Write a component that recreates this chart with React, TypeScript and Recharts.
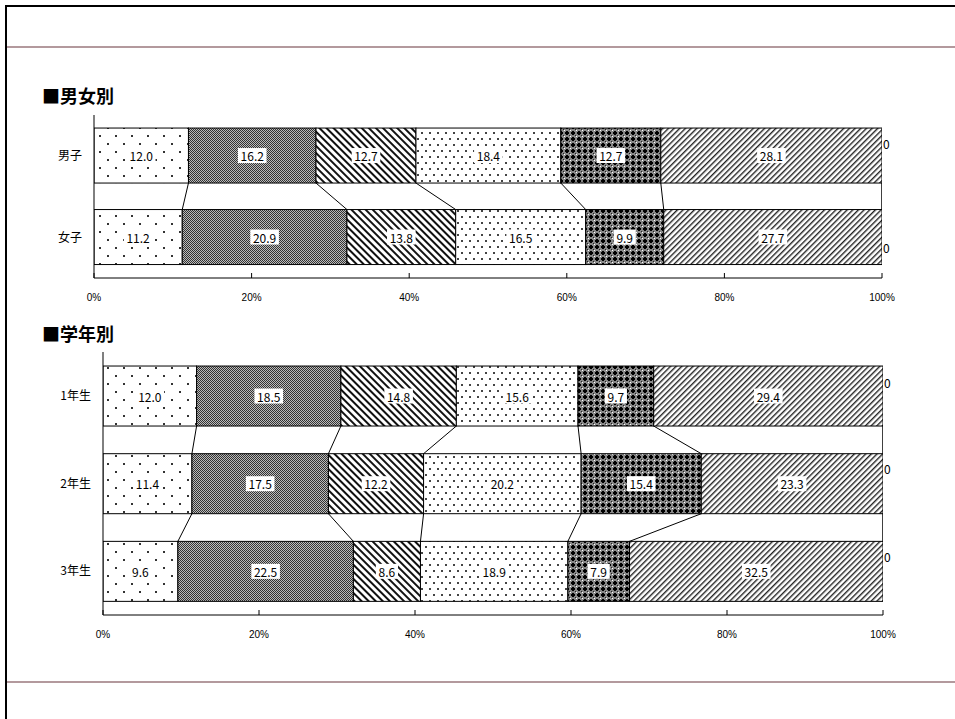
import { Bar, BarChart, LabelList, XAxis, YAxis } from "recharts";

// series keys, left to right (last one is the zero-valued "no answer" group)
const seriesKeys = ["s1", "s2", "s3", "s4", "s5", "s6", "s7"];
const seriesFills = ["url(#p1)", "url(#p2)", "url(#p3)", "url(#p4)", "url(#p5)", "url(#p6)", "none"];

const genderCategories = ["男子", "女子"];
const genderS1 = [12.0, 11.2];
const genderS2 = [16.2, 20.9];
const genderS3 = [12.7, 13.8];
const genderS4 = [18.4, 16.5];
const genderS5 = [12.7, 9.9];
const genderS6 = [28.1, 27.7];
const genderS7 = [0, 0];

const gradeCategories = ["1年生", "2年生", "3年生"];
const gradeS1 = [12.0, 11.4, 9.6];
const gradeS2 = [18.5, 17.5, 22.5];
const gradeS3 = [14.8, 12.2, 8.6];
const gradeS4 = [15.6, 20.2, 18.9];
const gradeS5 = [9.7, 15.4, 7.9];
const gradeS6 = [29.4, 23.3, 32.5];
const gradeS7 = [0, 0, 0];

const percentTicks = [0, 20, 40, 60, 80, 100];

const FONT = "'Noto Sans CJK JP', 'Noto Sans', sans-serif";

type Row = { name: string; [k: string]: any };

function buildRows(cats: string[], series: number[][]): Row[] {
  return cats.map((name, i) => {
    const row: Row = { name };
    seriesKeys.forEach((k, j) => (row[k] = series[j][i]));
    return row;
  });
}

const genderRows = buildRows(genderCategories, [genderS1, genderS2, genderS3, genderS4, genderS5, genderS6, genderS7]);
const gradeRows = buildRows(gradeCategories, [gradeS1, gradeS2, gradeS3, gradeS4, gradeS5, gradeS6, gradeS7]);

function cumShare(row: Row, k: number) {
  let total = 0;
  let part = 0;
  seriesKeys.forEach((key, j) => {
    total += row[key];
    if (j <= k) part += row[key];
  });
  return total ? part / total : 0;
}

// bar + excel style series line to the next category
function makeShape(rows: Row[], k: number, plotLeft: number, plotWidth: number, band: number) {
  return (props: any) => {
    const { x, y, width, height, index, fill } = props;
    const next = rows[index + 1];
    return (
      <g>
        {width > 0 && <rect x={x} y={y} width={width} height={height} fill={fill} stroke="#000" strokeWidth={1} />}
        {next && (
          <line
            x1={x + width}
            y1={y + height}
            x2={plotLeft + cumShare(next, k) * plotWidth}
            y2={y + band}
            stroke="#000"
            strokeWidth={1}
          />
        )}
      </g>
    );
  };
}

function makeLabel(zeroDy: number[]) {
  return (props: any) => {
    const vb = props.viewBox ?? props;
    const x = vb.x ?? props.x;
    const y = vb.y ?? props.y;
    const width = vb.width ?? props.width ?? 0;
    const height = vb.height ?? props.height ?? 0;
    const value = Number(props.value);
    const index = props.index ?? 0;
    if (value === 0) {
      return (
        <text x={x + width + 1} y={y + height / 2 + (zeroDy[index] ?? 0)} fontSize={12} fontFamily={FONT} fill="#000" dominantBaseline="central">
          0
        </text>
      );
    }
    const t = value.toFixed(1);
    const w = t.length * 6.4 + 3;
    const cx = x + width / 2;
    const cy = y + height / 2;
    return (
      <g>
        <rect x={cx - w / 2} y={cy - 7.5} width={w} height={15} fill="#fff" />
        <text x={cx} y={cy} fontSize={12} fontFamily={FONT} fill="#000" textAnchor="middle" dominantBaseline="central">
          {t}
        </text>
      </g>
    );
  };
}

const XTick = (props: any) => {
  const { x, y, payload } = props;
  return (
    <g>
      <line x1={x} x2={x} y1={y} y2={y - 5} stroke="#000" />
      <text x={x} y={y + 23} textAnchor="middle" fontSize={10} fontFamily="'Liberation Sans', Arial, sans-serif" fill="#000">
        {Math.round(payload.value * 100)}%
      </text>
    </g>
  );
};

function StackChart({
  rows,
  width,
  height,
  margin,
  zeroDy,
}: {
  rows: Row[];
  width: number;
  height: number;
  margin: { top: number; right: number; bottom: number; left: number };
  zeroDy: number[];
}) {
  const yAxisWidth = 60;
  const xAxisHeight = 30;
  const plotLeft = margin.left + yAxisWidth;
  const plotWidth = width - plotLeft - margin.right;
  const plotHeight = height - margin.top - margin.bottom - xAxisHeight;
  const band = plotHeight / rows.length;
  return (
    <BarChart width={width} height={height} data={rows} layout="vertical" stackOffset="expand" margin={margin} barCategoryGap="16%">
      <XAxis
        type="number"
        domain={[0, 1]}
        ticks={percentTicks.map((t) => t / 100)}
        tick={<XTick />}
        tickLine={false}
        tickSize={0}
        tickMargin={0}
        height={xAxisHeight}
        axisLine={{ stroke: "#000" }}
        allowDataOverflow
      />
      <YAxis
        type="category"
        dataKey="name"
        width={yAxisWidth}
        tickLine={false}
        tickSize={0}
        tickMargin={12}
        axisLine={{ stroke: "#000" }}
        tick={{ fill: "#000", fontSize: 12, fontFamily: FONT }}
      />
      {seriesKeys.map((key, k) => (
        <Bar
          key={key}
          dataKey={key}
          stackId="a"
          fill={seriesFills[k]}
          isAnimationActive={false}
          shape={makeShape(rows, k, plotLeft, plotWidth, band)}
        >
          <LabelList dataKey={key} content={makeLabel(zeroDy)} />
        </Bar>
      ))}
    </BarChart>
  );
}

function Patterns() {
  return (
    <svg width={0} height={0} style={{ position: "absolute" }}>
      <defs>
        <pattern id="p1" width={16} height={16} patternUnits="userSpaceOnUse">
          <rect width={16} height={16} fill="#fff" />
          <rect x={3} y={3} width={2} height={2} fill="#333" />
          <rect x={11} y={11} width={2} height={2} fill="#333" />
        </pattern>
        <pattern id="p2" width={2} height={2} patternUnits="userSpaceOnUse">
          <rect width={2} height={2} fill="#bbb" />
          <rect x={0} y={0} width={1} height={1} fill="#333" />
          <rect x={1} y={1} width={1} height={1} fill="#333" />
        </pattern>
        <pattern id="p3" width={5} height={5} patternUnits="userSpaceOnUse" patternTransform="rotate(-45)">
          <rect width={5} height={5} fill="#fff" />
          <rect width={2} height={5} fill="#111" />
        </pattern>
        <pattern id="p4" width={8} height={12} patternUnits="userSpaceOnUse">
          <rect width={8} height={12} fill="#fff" />
          <rect x={1} y={2} width={2} height={2} fill="#444" />
          <rect x={5} y={8} width={2} height={2} fill="#444" />
        </pattern>
        <pattern id="p5" width={6} height={6} patternUnits="userSpaceOnUse">
          <rect width={6} height={6} fill="#888" />
          <rect x={1} y={2} width={4} height={2} fill="#000" />
          <rect x={2} y={1} width={2} height={4} fill="#000" />
          <rect x={0} y={0} width={1} height={1} fill="#fff" />
          <rect x={5} y={5} width={1} height={1} fill="#222" />
        </pattern>
        <pattern id="p6" width={4} height={4} patternUnits="userSpaceOnUse" patternTransform="rotate(45)">
          <rect width={4} height={4} fill="#fff" />
          <rect width={1.4} height={4} fill="#222" />
        </pattern>
      </defs>
    </svg>
  );
}

const titleStyle: React.CSSProperties = {
  position: "absolute",
  left: 42,
  fontFamily: FONT,
  fontWeight: "bold",
  fontSize: 18,
  lineHeight: "22px",
  color: "#000",
};

export default function App() {
  return (
    <div style={{ position: "absolute", left: 0, top: 0, width: 955, height: 719, background: "#fff", overflow: "hidden" }}>
      <Patterns />
      <div style={{ position: "absolute", left: 5, top: 5, width: 950, height: 714, borderLeft: "2px solid #000", borderTop: "2px solid #000" }} />
      <div style={{ position: "absolute", left: 7, top: 46, width: 948, height: 2, background: "#b3999d" }} />
      <div style={{ position: "absolute", left: 7, top: 681, width: 948, height: 2, background: "#b3999d" }} />

      <div style={{ ...titleStyle, top: 84 }}>■男女別</div>
      <div style={{ position: "absolute", left: 0, top: 100 }}>
        <StackChart rows={genderRows} width={955} height={220} margin={{ top: 15, right: 73, bottom: 12, left: 34 }} zeroDy={[-12, 10]} />
      </div>

      <div style={{ ...titleStyle, top: 322 }}>■学年別</div>
      <div style={{ position: "absolute", left: 0, top: 340 }}>
        <StackChart rows={gradeRows} width={955} height={310} margin={{ top: 12, right: 72, bottom: 5, left: 43 }} zeroDy={[-14, -15, -15]} />
      </div>
    </div>
  );
}
